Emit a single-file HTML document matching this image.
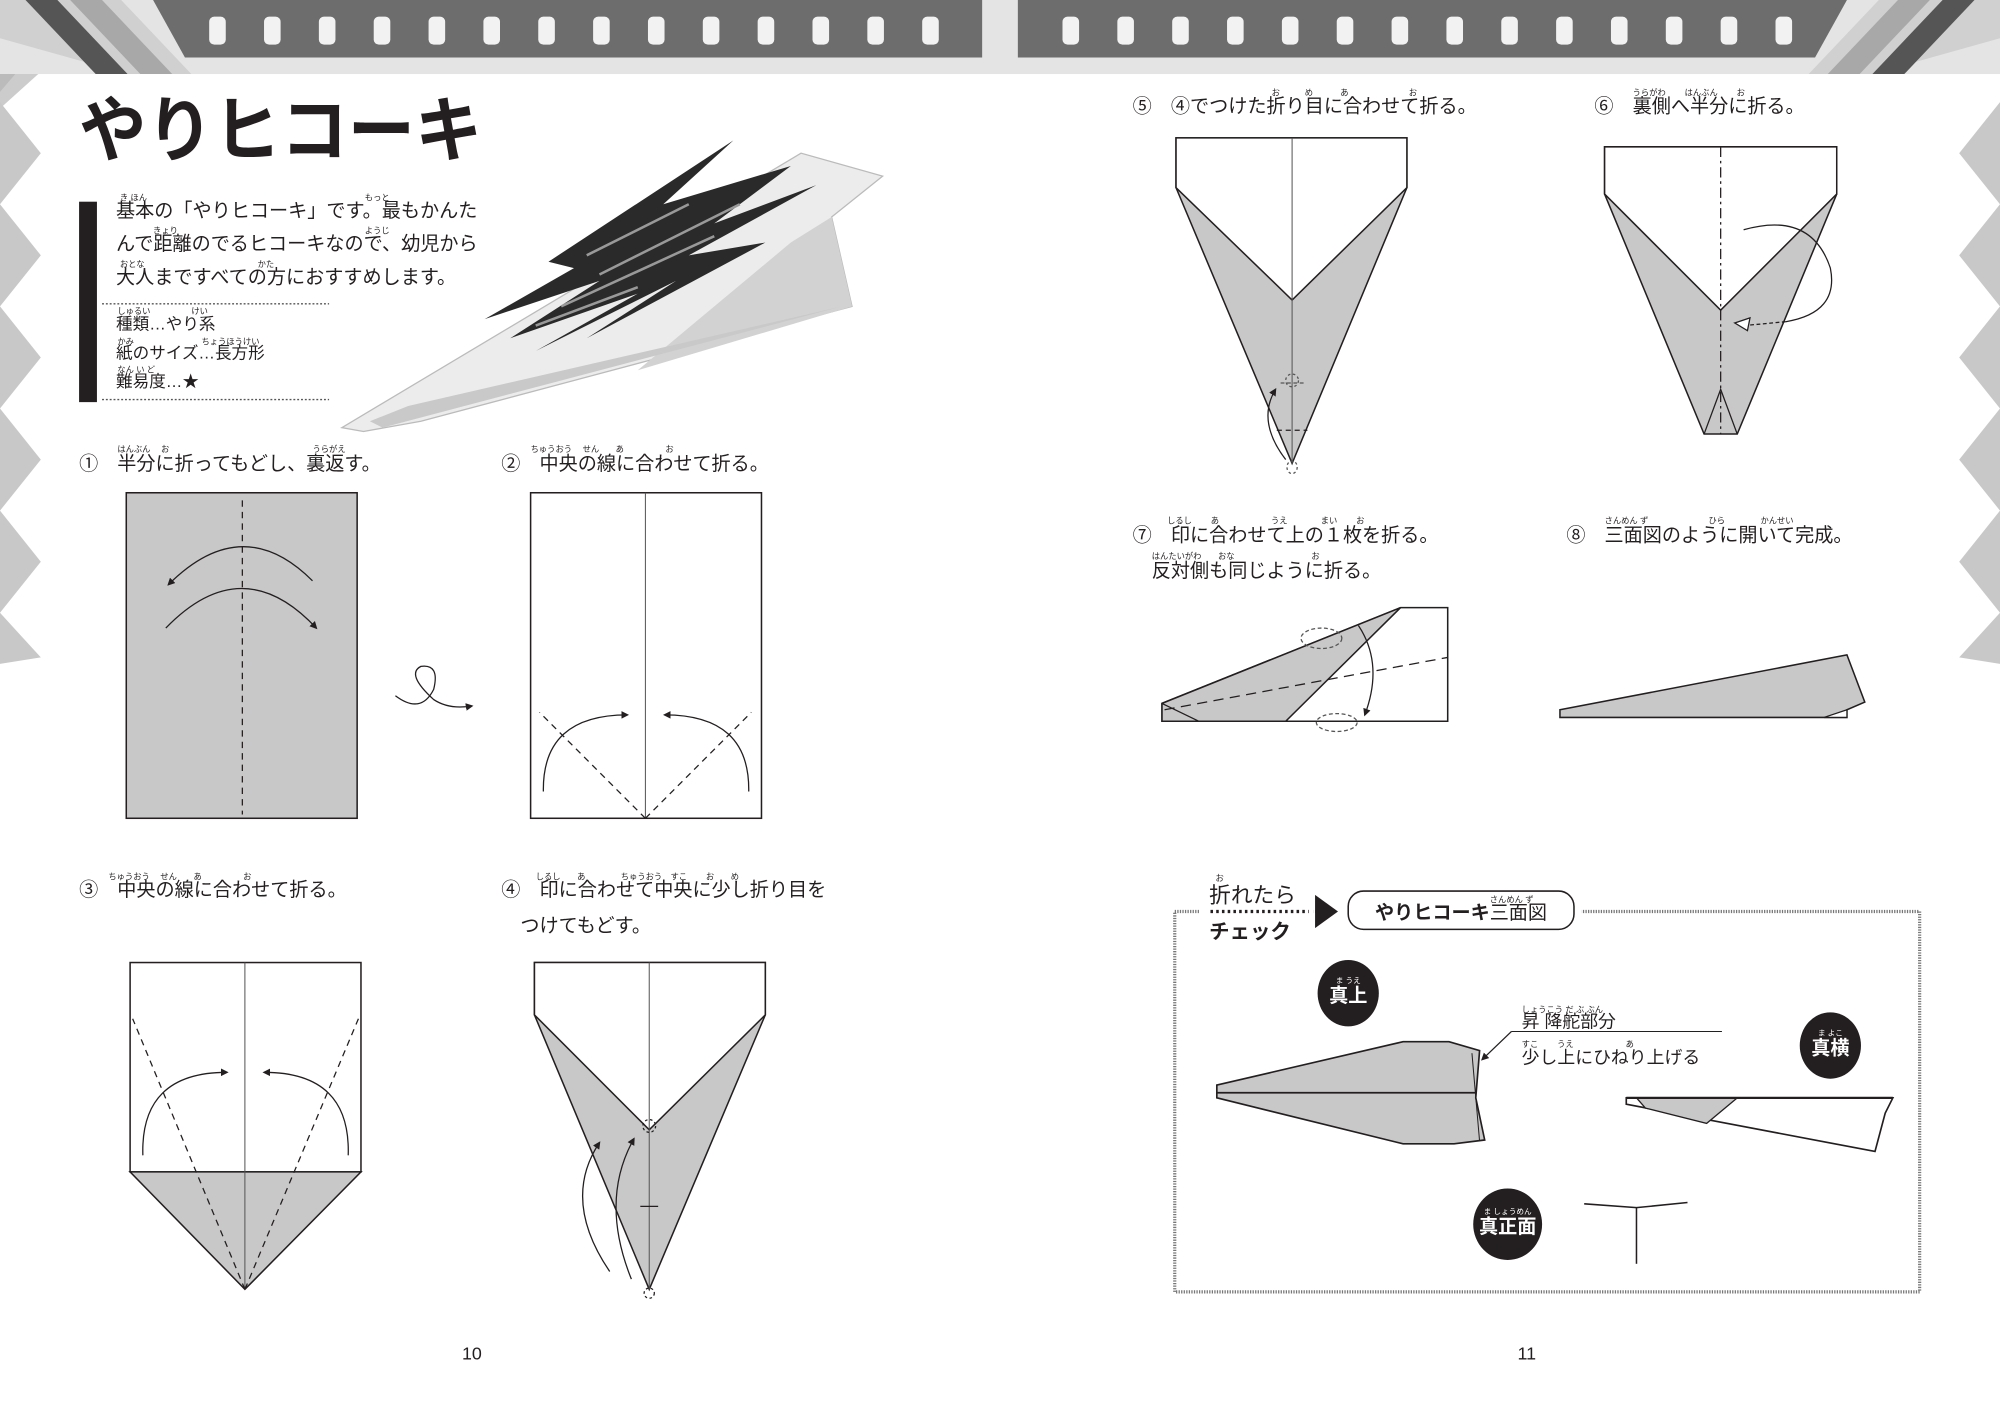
<!DOCTYPE html>
<html><head><meta charset="utf-8"><style>
html,body{margin:0;padding:0;background:#fff;}
svg{display:block;}
text{font-family:"Liberation Sans","Noto Sans CJK JP",sans-serif;fill:#231f20;}
.t{font-size:15px;}
.r{font-size:6.5px;}
.s{font-size:13px;}
</style></head><body>
<svg width="2000" height="1417" viewBox="0 0 1568 1110" preserveAspectRatio="none" xmlns="http://www.w3.org/2000/svg">
<defs>
<marker id="ah" viewBox="0 0 10 10" refX="8" refY="5" markerWidth="6" markerHeight="6" orient="auto"><path d="M0,0L10,5L0,10z" fill="#231f20"/></marker>
</defs>
<rect width="1568" height="1110" fill="#fff"/>
<!-- top banner -->
<rect x="0" y="0" width="1568" height="58" fill="#e4e4e4"/>
<polygon points="0,0 95,0 150,58 100,58 0,30" fill="#d0d0d0"/>
<polygon points="20,0 45,0 100,58 75,58" fill="#555"/>
<polygon points="55,0 80,0 135,58 110,58" fill="#a8a8a8"/>
<polygon points="120,0 770,0 770,45 145,45" fill="#6d6d6d"/>
<polygon points="1568,0 1473,0 1418,58 1468,58 1568,30" fill="#d0d0d0"/>
<polygon points="1548,0 1523,0 1468,58 1493,58" fill="#555"/>
<polygon points="1513,0 1488,0 1433,58 1458,58" fill="#a8a8a8"/>
<polygon points="1448,0 798,0 798,45 1423,45" fill="#6d6d6d"/>
<g fill="#f2f2f2">
<rect x="164" y="13" width="13" height="22" rx="4"/><rect x="207" y="13" width="13" height="22" rx="4"/><rect x="250" y="13" width="13" height="22" rx="4"/><rect x="293" y="13" width="13" height="22" rx="4"/><rect x="336" y="13" width="13" height="22" rx="4"/><rect x="379" y="13" width="13" height="22" rx="4"/><rect x="422" y="13" width="13" height="22" rx="4"/><rect x="465" y="13" width="13" height="22" rx="4"/><rect x="508" y="13" width="13" height="22" rx="4"/><rect x="551" y="13" width="13" height="22" rx="4"/><rect x="594" y="13" width="13" height="22" rx="4"/><rect x="637" y="13" width="13" height="22" rx="4"/><rect x="680" y="13" width="13" height="22" rx="4"/><rect x="723" y="13" width="13" height="22" rx="4"/>
<rect x="833" y="13" width="13" height="22" rx="4"/><rect x="876" y="13" width="13" height="22" rx="4"/><rect x="919" y="13" width="13" height="22" rx="4"/><rect x="962" y="13" width="13" height="22" rx="4"/><rect x="1005" y="13" width="13" height="22" rx="4"/><rect x="1048" y="13" width="13" height="22" rx="4"/><rect x="1091" y="13" width="13" height="22" rx="4"/><rect x="1134" y="13" width="13" height="22" rx="4"/><rect x="1177" y="13" width="13" height="22" rx="4"/><rect x="1220" y="13" width="13" height="22" rx="4"/><rect x="1263" y="13" width="13" height="22" rx="4"/><rect x="1306" y="13" width="13" height="22" rx="4"/><rect x="1349" y="13" width="13" height="22" rx="4"/><rect x="1392" y="13" width="13" height="22" rx="4"/>
</g>
<!-- side chevrons -->
<polygon points="0,58 30,58 0,85" fill="#ccc"/>
<g fill="#c8c8c8">
<polygon points="0,80 32,120 0,160"/><polygon points="0,160 32,200 0,240"/><polygon points="0,240 32,280 0,320"/><polygon points="0,320 32,360 0,400"/><polygon points="0,400 32,440 0,480"/><polygon points="0,480 32,515 0,520"/>
<polygon points="1568,80 1536,120 1568,160"/><polygon points="1568,160 1536,200 1568,240"/><polygon points="1568,240 1536,280 1568,320"/><polygon points="1568,320 1536,360 1568,400"/><polygon points="1568,400 1536,440 1568,480"/><polygon points="1568,480 1536,515 1568,520"/>
</g>
<polygon points="0,58 12,58 0,72" fill="#bbb"/>

<!-- title -->
<text x="62" y="122" textLength="316" lengthAdjust="spacingAndGlyphs" style="font-size:56px;font-weight:bold">やりヒコーキ</text>
<rect x="62" y="158" width="14" height="157" fill="#231f20"/>
<text class="r" x="94" y="157">き ほん</text><text class="r" x="286" y="157">もっと</text>
<text class="t" x="91" y="170">基本の「やりヒコーキ」です。最もかんた</text>
<text class="r" x="120" y="183">きょり</text><text class="r" x="286" y="183">ようじ</text>
<text class="t" x="91" y="196">んで距離のでるヒコーキなので、幼児から</text>
<text class="r" x="94" y="209">おとな</text><text class="r" x="202" y="209">かた</text>
<text class="t" x="91" y="222">大人まですべての方におすすめします。</text>
<line x1="80" y1="238" x2="258" y2="238" stroke="#555" stroke-dasharray="1.5,1.5"/>
<text class="r" x="92" y="246">しゅるい</text><text class="r" x="150" y="246">けい</text>
<text class="s" x="91" y="258">種類…やり系</text>
<text class="r" x="92" y="270">かみ</text><text class="r" x="158" y="270">ちょうほうけい</text>
<text class="s" x="91" y="281">紙のサイズ…長方形</text>
<text class="r" x="92" y="292">なん い ど</text>
<text class="s" x="91" y="303">難易度…★</text>
<line x1="80" y1="313" x2="258" y2="313" stroke="#555" stroke-dasharray="1.5,1.5"/>

<!-- photo plane -->
<polygon points="268,335 628,120 692,138 652,170 668,240 330,330 285,338" fill="#ececec" stroke="#bbb" stroke-width="1"/>
<polygon points="652,170 668,240 500,290 620,190" fill="#d2d2d2"/>
<polygon points="290,330 320,318 660,240 300,335" fill="#c9c9c9"/>
<path d="M430,205 L575,110 L520,160 L620,130 L560,175 L640,145 L540,200 L600,190 L460,265 L530,220 L420,275 L500,230 L400,265 L470,220 L380,250 L450,210 Z" fill="#2a2a2a"/>
<path d="M460,200 L540,160 M470,215 L580,160 M440,240 L560,185 M420,255 L500,225" stroke="#999" stroke-width="2"/>

<!-- step 1 -->
<text class="t" x="62" y="368">①　半分に折ってもどし、裏返す。</text>
<text class="r" x="92" y="354">はんぶん　 お</text><text class="r" x="245" y="354">うらがえ</text>
<rect x="99" y="386" width="181" height="255" fill="#c8c8c8" stroke="#231f20" stroke-width="1.2"/>
<line x1="190" y1="392" x2="190" y2="638" stroke="#231f20" stroke-dasharray="5,4"/>
<path d="M245,455 Q190,400 132,458" fill="none" stroke="#231f20" marker-end="url(#ah)"/>
<path d="M130,492 Q190,430 248,492" fill="none" stroke="#231f20" marker-end="url(#ah)"/>
<path d="M310,545 Q330,560 340,540 Q345,520 330,522 Q318,528 340,548 Q352,556 370,553" fill="none" stroke="#231f20" marker-end="url(#ah)"/>

<!-- step 2 -->
<text class="t" x="393" y="368">②　中央の線に合わせて折る。</text>
<text class="r" x="416" y="354">ちゅうおう　 せん　　あ　　　　　お</text>
<rect x="416" y="386" width="181" height="255" fill="#fff" stroke="#231f20" stroke-width="1.2"/>
<line x1="506" y1="386" x2="506" y2="641" stroke="#555" stroke-width="0.8"/>
<line x1="506" y1="641" x2="423" y2="558" stroke="#231f20" stroke-dasharray="5,4"/>
<line x1="506" y1="641" x2="589" y2="558" stroke="#231f20" stroke-dasharray="5,4"/>
<path d="M426,620 Q425,560 492,560" fill="none" stroke="#231f20" marker-end="url(#ah)"/>
<path d="M587,620 Q588,560 521,560" fill="none" stroke="#231f20" marker-end="url(#ah)"/>

<!-- step 3 -->
<text class="t" x="62" y="702">③　中央の線に合わせて折る。</text>
<text class="r" x="85" y="689">ちゅうおう　 せん　　あ　　　　　お</text>
<rect x="102" y="754" width="181" height="164" fill="#fff" stroke="#231f20" stroke-width="1.2"/>
<polygon points="102,918 283,918 192,1010" fill="#c8c8c8" stroke="#231f20" stroke-width="1.2"/>
<line x1="192" y1="754" x2="192" y2="1010" stroke="#555" stroke-width="0.8"/>
<line x1="192" y1="1010" x2="104" y2="798" stroke="#231f20" stroke-dasharray="5,4"/>
<line x1="192" y1="1010" x2="281" y2="798" stroke="#231f20" stroke-dasharray="5,4"/>
<path d="M112,905 Q110,840 178,840" fill="none" stroke="#231f20" marker-end="url(#ah)"/>
<path d="M273,905 Q275,840 207,840" fill="none" stroke="#231f20" marker-end="url(#ah)"/>

<!-- step 4 -->
<text class="t" x="393" y="702">④　印に合わせて中央に少し折り目を</text>
<text class="r" x="420" y="689">しるし　　あ　　　　 ちゅうおう　すこ　　 お　　め</text>
<text class="t" x="408" y="730">つけてもどす。</text>
<polygon points="419,754 600,754 600,795 509,1010 419,795" fill="#c8c8c8" stroke="#231f20" stroke-width="1.2"/>
<polygon points="419,754 600,754 600,795 509,885 419,795" fill="#fff" stroke="#231f20" stroke-width="1.2"/>
<line x1="509" y1="754" x2="509" y2="1010" stroke="#555" stroke-width="0.8"/>
<line x1="502" y1="945" x2="516" y2="945" stroke="#231f20"/>
<circle cx="509" cy="882" r="5" fill="none" stroke="#231f20" stroke-dasharray="2,2"/>
<circle cx="509" cy="1013" r="4" fill="none" stroke="#231f20" stroke-dasharray="2,2"/>
<path d="M478,996 Q440,940 470,895" fill="none" stroke="#231f20" marker-end="url(#ah)"/>
<path d="M495,1002 Q470,940 497,892" fill="none" stroke="#231f20" marker-end="url(#ah)"/>

<text x="370" y="1065" text-anchor="middle" style="font-size:14px">10</text>
<text x="1197" y="1065" text-anchor="middle" style="font-size:14px">11</text>

<!-- step 5 -->
<text class="t" x="888" y="88">⑤　④でつけた折り目に合わせて折る。</text>
<text class="r" x="997" y="75">お　　　め　　　 あ　　　　　　　 お</text>
<polygon points="922,108 1103,108 1103,147 1013,363 922,147" fill="#c8c8c8" stroke="#231f20" stroke-width="1.2"/>
<polygon points="922,108 1103,108 1103,147 1013,235 922,147" fill="#fff" stroke="#231f20" stroke-width="1.2"/>
<line x1="1013" y1="108" x2="1013" y2="363" stroke="#555" stroke-width="0.8"/>
<line x1="1004" y1="300" x2="1022" y2="300" stroke="#555" stroke-dasharray="3,2"/>
<line x1="1001" y1="337" x2="1025" y2="337" stroke="#231f20" stroke-dasharray="4,3"/>
<circle cx="1013" cy="298" r="5" fill="none" stroke="#555" stroke-dasharray="2,2"/>
<ellipse cx="1013" cy="366" rx="4" ry="5" fill="none" stroke="#555" stroke-dasharray="2,2"/>
<path d="M1008,360 Q985,330 1000,305" fill="none" stroke="#231f20" marker-end="url(#ah)"/>

<!-- step 6 -->
<text class="t" x="1250" y="88">⑥　裏側へ半分に折る。</text>
<text class="r" x="1280" y="75">うらがわ　　 はんぶん　　 お</text>
<polygon points="1258,115 1440,115 1440,152 1362,340 1336,340 1258,152" fill="#c8c8c8" stroke="#231f20" stroke-width="1.2"/>
<polygon points="1258,115 1440,115 1440,152 1349,243 1258,152" fill="#fff" stroke="#231f20" stroke-width="1.2"/>
<line x1="1349" y1="115" x2="1349" y2="340" stroke="#231f20" stroke-dasharray="8,3,2,3"/>
<polyline points="1336,340 1349,305 1362,340" fill="none" stroke="#231f20"/>
<path d="M1367,180 Q1420,165 1435,210 Q1442,245 1400,252" fill="none" stroke="#231f20"/>
<path d="M1400,252 L1368,255" fill="none" stroke="#231f20" stroke-dasharray="3,2"/>
<polygon points="1360,253 1372,249 1370,259" fill="#fff" stroke="#231f20"/>

<!-- step 7 -->
<text class="t" x="888" y="424">⑦　印に合わせて上の１枚を折る。</text>
<text class="r" x="915" y="410">しるし　　 あ　　　　　　 うえ　　　　まい　　 お</text>
<text class="r" x="903" y="438">はんたいがわ　　おな　　　　　　　　　 お</text>
<text class="t" x="903" y="452">反対側も同じように折る。</text>
<polygon points="911,551 1098,476 1135,476 1135,565 911,565" fill="#fff" stroke="#231f20" stroke-width="1.2"/>
<polygon points="911,551 1098,476 1008,565 911,565" fill="#c8c8c8" stroke="#231f20" stroke-width="1.2"/>
<line x1="911" y1="551" x2="940" y2="565" stroke="#231f20"/>
<line x1="913" y1="556" x2="1135" y2="515" stroke="#231f20" stroke-dasharray="8,5"/>
<ellipse cx="1036" cy="500" rx="16" ry="8" fill="none" stroke="#555" stroke-dasharray="3,2"/>
<ellipse cx="1048" cy="566" rx="16" ry="7" fill="none" stroke="#555" stroke-dasharray="3,2"/>
<path d="M1065,490 Q1085,520 1070,560" fill="none" stroke="#231f20" marker-end="url(#ah)"/>

<!-- step 8 -->
<text class="t" x="1228" y="424">⑧　三面図のように開いて完成。</text>
<text class="r" x="1258" y="410">さんめん ず　　　　　　　 ひら　　　　 かんせい</text>
<polygon points="1223,556 1448,513 1462,550 1448,556 1448,562 1223,562" fill="#c8c8c8" stroke="#231f20" stroke-width="1.2"/>
<polygon points="1430,562 1448,556 1448,562" fill="#fff" stroke="#231f20"/>

<!-- check box -->
<rect x="921" y="714" width="584" height="298" fill="none" stroke="#777" stroke-width="2.5" stroke-dasharray="1,1"/>
<rect x="940" y="680" width="90" height="60" fill="#fff"/>
<rect x="1040" y="690" width="200" height="40" fill="#fff"/>
<text class="r" x="953" y="690">お</text>
<text x="948" y="707" style="font-size:17px">折れたら</text>
<line x1="949" y1="714" x2="1026" y2="714" stroke="#231f20" stroke-width="2.5" stroke-dasharray="2,2.5"/>
<text x="948" y="735" style="font-size:16px;font-weight:bold">チェック</text>
<polygon points="1031,701 1049,714 1031,727" fill="#231f20"/>
<rect x="1057" y="698" width="177" height="30" rx="12" fill="#fff" stroke="#231f20" stroke-width="1.2"/>
<text x="1078" y="720" style="font-size:15px;font-weight:bold">やりヒコーキ<tspan style="font-weight:normal">三面図</tspan></text>
<text class="r" x="1168" y="707">さんめん ず</text>

<ellipse cx="1057" cy="778" rx="24" ry="26" fill="#231f20"/>
<text x="1057" y="785" text-anchor="middle" style="font-size:15px;fill:#fff;font-weight:bold">真上</text>
<text x="1057" y="770" text-anchor="middle" style="font-size:6px;fill:#fff">ま うえ</text>
<ellipse cx="1435" cy="819" rx="24" ry="26" fill="#231f20"/>
<text x="1435" y="826" text-anchor="middle" style="font-size:15px;fill:#fff;font-weight:bold">真横</text>
<text x="1435" y="811" text-anchor="middle" style="font-size:6px;fill:#fff">ま よこ</text>
<ellipse cx="1182" cy="959" rx="27" ry="28" fill="#231f20"/>
<text x="1182" y="966" text-anchor="middle" style="font-size:15px;fill:#fff;font-weight:bold">真正面</text>
<text x="1182" y="951" text-anchor="middle" style="font-size:6px;fill:#fff">ま しょうめん</text>

<!-- top view -->
<polygon points="954,850 1100,816 1136,816 1160,823 1157,860 1164,893 1140,896 1100,896 954,860" fill="#c8c8c8" stroke="#231f20" stroke-width="1.3"/>
<line x1="954" y1="856" x2="1157" y2="856" stroke="#231f20" stroke-width="1.3"/>
<line x1="1154" y1="825" x2="1160" y2="894" stroke="#231f20" stroke-width="0.8"/>
<line x1="1185" y1="808" x2="1350" y2="808" stroke="#231f20" stroke-width="0.8"/>
<path d="M1185,808 L1162,830" stroke="#231f20" marker-end="url(#ah)"/>
<text class="r" x="1193" y="793">しょうこう だ ぶ ぶん</text>
<text x="1193" y="805" style="font-size:14px">昇 降舵部分</text>
<text class="r" x="1193" y="820">すこ　　 うえ　　　　　　 あ</text>
<text x="1193" y="833" style="font-size:14px">少し上にひねり上げる</text>

<!-- side view -->
<polygon points="1275,860 1484,860 1478,872 1470,902 1275,865" fill="#fff" stroke="#231f20" stroke-width="1.3"/>
<polygon points="1283,860 1362,860 1338,880 1290,868" fill="#c8c8c8" stroke="#231f20" stroke-width="1"/>
<line x1="1275" y1="860" x2="1484" y2="860" stroke="#231f20" stroke-width="1.8"/>

<!-- front view -->
<polyline points="1242,943 1283,946 1323,942" fill="none" stroke="#231f20" stroke-width="1.2"/>
<line x1="1283" y1="946" x2="1283" y2="990" stroke="#231f20" stroke-width="1.2"/>
</svg>
</body></html>
